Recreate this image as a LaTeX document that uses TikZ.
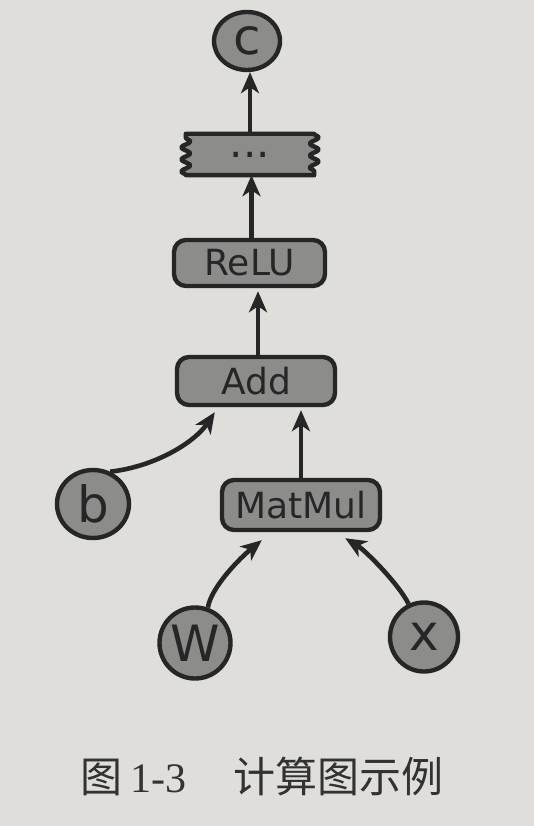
\documentclass[tikz,border=0pt]{standalone}
\usepackage{fontspec}
\newfontfamily\lab{DejaVu Sans}
\newfontfamily\cjk{Noto Sans CJK SC}
\newfontfamily\ser{Liberation Serif}
\usetikzlibrary{arrows.meta,shapes.geometric,decorations.pathmorphing,calc}
\definecolor{paper}{RGB}{223,222,218}
\definecolor{boxgray}{RGB}{140,140,138}
\definecolor{ink}{RGB}{38,38,38}
\definecolor{capink}{RGB}{50,50,50}
\begin{document}
\begin{tikzpicture}[x=1pt,y=-1pt,
  opbox/.style={draw=ink, fill=boxgray, line width=4.4pt, rounded corners=12pt,
    minimum width=158pt, minimum height=48pt, inner sep=0pt,
    font=\lab\fontsize{36}{40}\selectfont, text=ink},
  varnode/.style={ellipse, draw=ink, fill=boxgray, line width=4.4pt, inner sep=0pt,
    font=\lab\fontsize{50}{54}\selectfont, text=ink},
  flowarrow/.style={draw=ink, line width=4.6pt, -{Stealth[length=21pt,width=18pt,inset=6pt]}},
  wavy/.style={decoration={snake, amplitude=4.5pt, segment length=12pt}}
]
\fill[paper] (0,0) rectangle (534,826);
\useasboundingbox (0,0) rectangle (534,826);

% nodes
\node[varnode, minimum width=66pt, minimum height=58pt] (c) at (247,41) {c};
\node[inner sep=0pt, minimum width=128pt, minimum height=41pt] (dots) at (250,154.5) {};
\path[fill=boxgray, draw=ink, line width=4.4pt, line join=round]
  (dots.north west) -- (dots.north east)
  decorate[wavy]{ -- (dots.south east)}
  -- (dots.south west)
  decorate[wavy]{ -- (dots.north west)}
  -- cycle;
\node[inner sep=0pt, font=\lab\fontsize{42}{46}\selectfont, text=ink] (dotstext) at (dots.center) {...};
\node[opbox, minimum width=151pt, minimum height=46pt] (relu) at (249.5,263) {ReLU};
\node[opbox] (add) at (256,381) {Add};
\node[opbox, minimum height=50pt] (matmul) at (301,505) {MatMul};
\node[varnode, minimum width=72pt, minimum height=68pt] (b) at (93,504) {b};
\node[varnode, minimum width=71pt, minimum height=71pt] (W) at (195,643) {W};
\node[varnode, minimum width=68pt, minimum height=69pt] (x) at (424,637) {x};

% connectors
\draw[flowarrow, shorten >=0pt] (dots.north) -- (dots.north |- c.south);
\draw[flowarrow, shorten >=0pt] ([xshift=2pt]relu.north) -- ([xshift=2pt]relu.north |- dots.south);
\draw[flowarrow, shorten >=3pt] ([xshift=2pt]add.north) -- ([xshift=2pt]add.north |- relu.south);
\draw[flowarrow, shorten >=3pt] (matmul.north) -- (matmul.north |- add.south);
\draw[flowarrow] (b.62) .. controls +(45,-5) and +(-20,30) .. ([xshift=40pt,yshift=-5pt]add.south west);
\draw[flowarrow] (W.70) .. controls +(3,-20) and +(-22,18) .. ([xshift=42pt,yshift=-8pt]matmul.south west);
\draw[flowarrow] (x.115) .. controls +(-10,-20) and +(20,12) .. ([xshift=-37pt,yshift=-6pt]matmul.south east);

% caption
\node[anchor=base west, inner sep=0pt, text=capink] (cap) at (80,792)
  {\fontsize{42}{46}\selectfont{\cjk 图}\hspace{8pt}{\ser 1-3}\hspace{47pt}{\cjk 计算图示例}};
\end{tikzpicture}
\end{document}
